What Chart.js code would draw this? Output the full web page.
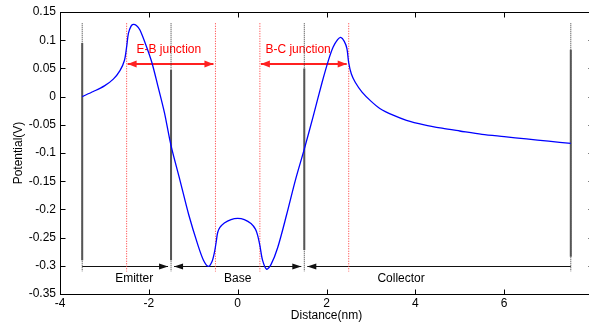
<!DOCTYPE html>
<html>
<head>
<meta charset="utf-8">
<script src="https://cdn.jsdelivr.net/npm/chart.js@4.4.0/dist/chart.umd.min.js"></script>
<style>
html, body {margin: 0; padding: 0; overflow: hidden; background: #fff;}
#wrap {width: 600px; height: 326px;}
</style>
</head>
<body>
<div id="wrap"><canvas id="chart" width="600" height="326"></canvas></div>
<script>
//potential profile along the transistor
var distance = [-3.5, -3.25, -3.0, -2.8, -2.65, -2.55, -2.5, -2.46, -2.4, -2.35, -2.28, -2.2, -2.05, -1.93, -1.8, -1.65, -1.5,
	-1.3, -1.1, -0.9, -0.77, -0.66, -0.58, -0.52, -0.48, -0.45, -0.4, -0.3, -0.15, 0, 0.15, 0.3, 0.4, 0.45, 0.5, 0.56,
	0.65, 0.75, 0.9, 1.1, 1.3, 1.5, 1.7, 1.9, 2.05, 2.15, 2.25, 2.32, 2.4, 2.46, 2.5, 2.56, 2.65, 2.8, 3.0, 3.2, 3.5, 3.8,
	4.2, 4.6, 5.0, 5.5, 6.0, 6.5, 7.0, 7.5];
var potential = [0.0, 0.009, 0.019, 0.031, 0.046, 0.064, 0.088, 0.112, 0.125, 0.128, 0.126, 0.118, 0.088, 0.06, 0.02, -0.028, -0.087,
	-0.148, -0.21, -0.262, -0.29, -0.301, -0.293, -0.275, -0.256, -0.241, -0.232, -0.224, -0.218, -0.216, -0.218, -0.225, -0.235, -0.246, -0.264, -0.29,
	-0.306, -0.298, -0.268, -0.21, -0.148, -0.093, -0.035, 0.025, 0.066, 0.088, 0.101, 0.105, 0.098, 0.085, 0.06, 0.04, 0.025, 0.008, -0.008, -0.021, -0.033, -0.042,
	-0.05, -0.056, -0.061, -0.067, -0.071, -0.075, -0.079, -0.083];

//region borders (black) and junction edges (red)
var regionEdges = [-3.5, -1.5, 1.5, 7.5];
var edgeSolidTop = [0.095, 0.047, 0.05, 0.083];
var edgeSolidBottom = [-0.29, -0.29, -0.272, -0.284];
var junctionEdges = [-2.5, -0.5, 0.5, 2.5];
var edgeTop = 0.13;
var edgeBottom = -0.31;

//region arrows + names
var regionNames = ['Emitter', 'Base', 'Collector'];
var regionLabelX = [-2.33, 0, 3.68];
var regionHeadStart = [false, true, true];
var regionHeadEnd = [true, true, false];
var regionArrowY = -0.301;
var regionLabelY = -0.322;

//junction arrows + names
var junctionNames = ['E-B junction', 'B-C junction'];
var junctionLabelX = [-1.55, 1.36];
var junctionArrowY = 0.058;
var junctionLabelY = 0.084;

Chart.defaults.font.family = '"Liberation Sans", Arial, Helvetica, sans-serif';
Chart.defaults.font.size = 12;
Chart.defaults.color = '#000';

function vline(x, y1, y2, color, width, dash) {
	return {
		data: [{x: x, y: y1}, {x: x, y: y2}],
		borderColor: color, borderWidth: width, borderDash: dash,
		pointRadius: 0, tension: 0
	};
}

//build the datasets, curve first so it lands on top
var sets = [{
	data: distance.map(function(d, i) {return {x: d, y: potential[i]};}),
	borderColor: '#0000ff', borderWidth: 1.3, pointRadius: 0,
	tension: 0.3
}];
regionEdges.forEach(function(x, i) {
	sets.push(vline(x, edgeSolidTop[i], edgeSolidBottom[i], '#555', 2, []));
	sets.push(vline(x, edgeTop, edgeBottom, '#333', 1, [1, 1]));
});
junctionEdges.forEach(function(x) {
	sets.push(vline(x, edgeTop, edgeBottom, '#ff3333', 1, [1, 1.5]));
});

function arrow(ctx, x1, x2, y, head1, head2, color, lw, len, half) {
	ctx.save();
	ctx.strokeStyle = color; ctx.fillStyle = color; ctx.lineWidth = lw;
	ctx.beginPath(); ctx.moveTo(x1, y); ctx.lineTo(x2, y); ctx.stroke();
	if (head1) {
		ctx.beginPath(); ctx.moveTo(x1, y); ctx.lineTo(x1 + len, y - half); ctx.lineTo(x1 + len, y + half); ctx.closePath(); ctx.fill();
	}
	if (head2) {
		ctx.beginPath(); ctx.moveTo(x2, y); ctx.lineTo(x2 - len, y - half); ctx.lineTo(x2 - len, y + half); ctx.closePath(); ctx.fill();
	}
	ctx.restore();
}

//arrows and labels under the curve
var notes = {
	id: 'notes',
	beforeDatasetsDraw: function(chart) {
		var ctx = chart.ctx, xs = chart.scales.x, ys = chart.scales.y;
		var ya = Math.round(ys.getPixelForValue(regionArrowY)) + 0.5;
		for (var i = 0; i < regionNames.length; i++) {
			var a = xs.getPixelForValue(regionEdges[i]) + (regionHeadStart[i] ? 3 : 0);
			var b = xs.getPixelForValue(regionEdges[i + 1]) - (regionHeadEnd[i] ? 3 : 0);
			arrow(ctx, a, b, ya, regionHeadStart[i], regionHeadEnd[i], '#111', 1.2, 9, 3);
		}
		var yj = ys.getPixelForValue(junctionArrowY);
		for (var j = 0; j < junctionNames.length; j++) {
			arrow(ctx, xs.getPixelForValue(junctionEdges[j * 2]) + 1, xs.getPixelForValue(junctionEdges[j * 2 + 1]) - 2,
				yj, true, true, '#ff2020', 2, 9, 3.5);
		}
		ctx.save();
		ctx.font = '12px "Liberation Sans", Arial, sans-serif';
		ctx.textAlign = 'center'; ctx.textBaseline = 'middle';
		ctx.fillStyle = '#000';
		regionNames.forEach(function(n, k) {
			ctx.fillText(n, xs.getPixelForValue(regionLabelX[k]), ys.getPixelForValue(regionLabelY));
		});
		ctx.fillStyle = '#ff0000';
		junctionNames.forEach(function(n, k) {
			ctx.fillText(n, xs.getPixelForValue(junctionLabelX[k]), ys.getPixelForValue(junctionLabelY));
		});
		ctx.restore();
	},
	//matlab style box with inward ticks
	afterDraw: function(chart) {
		var ctx = chart.ctx, a = chart.chartArea, xs = chart.scales.x, ys = chart.scales.y;
		var l = Math.round(a.left) + 0.5, r = Math.round(a.right) + 0.5, t = Math.round(a.top) + 0.5, b = Math.round(a.bottom) + 0.5;
		ctx.save();
		ctx.strokeStyle = '#000'; ctx.lineWidth = 1;
		ctx.strokeRect(l, t, r - l, b - t);
		ctx.beginPath();
		xs.ticks.forEach(function(tk) {
			var p = Math.round(xs.getPixelForValue(tk.value)) + 0.5;
			ctx.moveTo(p, b); ctx.lineTo(p, b - 5);
			ctx.moveTo(p, t); ctx.lineTo(p, t + 5);
		});
		ys.ticks.forEach(function(tk) {
			var p = Math.round(ys.getPixelForValue(tk.value)) + 0.5;
			ctx.moveTo(l, p); ctx.lineTo(l + 5, p);
			ctx.moveTo(r, p); ctx.lineTo(r - 5, p);
		});
		ctx.stroke();
		ctx.restore();
	}
};

var c = document.getElementById('chart').getContext('2d');
var potChart = new Chart(c, {
	type: 'line',
	data: {datasets: sets},
	plugins: [notes],
	options: {
		responsive: false,
		animation: false,
		layout: {padding: {left: 0, right: 7, top: 12, bottom: 0}},
		plugins: {legend: {display: false}, tooltip: {enabled: false}},
		scales: {
			x: {
				type: 'linear', min: -4, max: 8,
				grid: {display: false, drawTicks: false},
				border: {display: false},
				ticks: {stepSize: 2, padding: 2, maxRotation: 0,
					callback: function(v) {return v === 8 ? '' : String(v);}},
				title: {display: true, text: 'Distance(nm)', padding: {top: 0, bottom: 3}},
				afterFit: function(s) {s.height = 32;}
			},
			y: {
				type: 'linear', min: -0.35, max: 0.15,
				grid: {display: false, drawTicks: false},
				border: {display: false},
				ticks: {stepSize: 0.05, padding: 4,
					callback: function(v) {var n = Math.round(v * 100) / 100; return n === 0 ? '0' : String(n);}},
				title: {display: true, text: 'Potential(V)', padding: {top: 11, bottom: 0}},
				afterFit: function(s) {s.width = 60;}
			}
		}
	}
});
</script>
</body>
</html>
